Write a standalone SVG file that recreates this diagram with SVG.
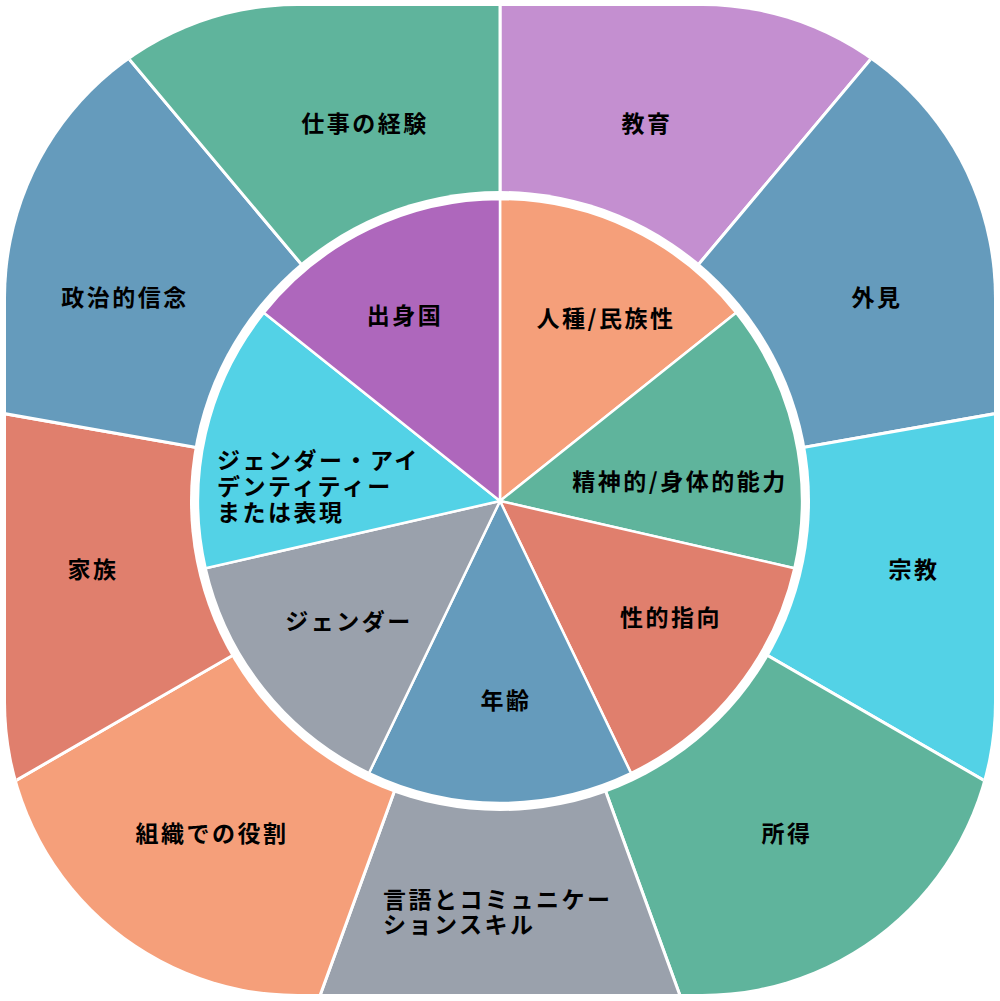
<svg xmlns="http://www.w3.org/2000/svg" width="1000" height="1001" viewBox="0 0 1000 1001">
<style>
.o{stroke:#fff;stroke-width:3}
.i{stroke:#fff;stroke-width:2.5}
text{font-family:"Noto Sans CJK JP","Noto Sans CJK SC",sans-serif;font-weight:bold;font-size:23px;letter-spacing:2.5px;fill:#000}
.m{text-anchor:middle}
.purple{fill:#C48FD0}.blue{fill:#659BBC}.cyan{fill:#53D2E6}.green{fill:#5FB49C}.gray{fill:#9AA1AC}.salmon{fill:#F59F7A}.coral{fill:#E07F6D}.dpurple{fill:#AE67BC}
</style>
<defs>
<clipPath id="rr"><rect x="6" y="6" width="988" height="988" rx="292" ry="292"/></clipPath>
</defs>
<rect width="1000" height="1001" fill="#fff"/>
<g id="outer" clip-path="url(#rr)">
<g id="n-kyoiku"><path class="o purple" d="M500,501 L500,-399 L1078.5,-188.4 Z"/></g>
<g id="n-gaiken"><path class="o blue" d="M500,501 L1078.5,-188.4 L1386.3,344.7 Z"/></g>
<g id="n-shukyo"><path class="o cyan" d="M500,501 L1386.3,344.7 L1279.4,951 Z"/></g>
<g id="n-shotoku"><path class="o green" d="M500,501 L1279.4,951 L807.8,1346.7 Z"/></g>
<g id="n-gengo"><path class="o gray" d="M500,501 L807.8,1346.7 L192.2,1346.7 Z"/></g>
<g id="n-soshiki"><path class="o salmon" d="M500,501 L192.2,1346.7 L-279.4,951 Z"/></g>
<g id="n-kazoku"><path class="o coral" d="M500,501 L-279.4,951 L-386.3,344.7 Z"/></g>
<g id="n-seiji"><path class="o blue" d="M500,501 L-386.3,344.7 L-78.5,-188.4 Z"/></g>
<g id="n-shigoto"><path class="o green" d="M500,501 L-78.5,-188.4 L500,-399 Z"/></g>
</g>
<circle cx="500" cy="501" r="310" fill="#fff"/>
<g id="inner">
<g id="n-jinshu"><path class="i salmon" d="M500,501 L500,199 A302,302 0 0 1 736.11,312.71 Z"/></g>
<g id="n-seishin"><path class="i green" d="M500,501 L736.11,312.71 A302,302 0 0 1 794.43,568.2 Z"/></g>
<g id="n-seiteki"><path class="i coral" d="M500,501 L794.43,568.2 A302,302 0 0 1 631.03,773.09 Z"/></g>
<g id="n-nenrei"><path class="i blue" d="M500,501 L631.03,773.09 A302,302 0 0 1 368.97,773.09 Z"/></g>
<g id="n-gender"><path class="i gray" d="M500,501 L368.97,773.09 A302,302 0 0 1 205.57,568.2 Z"/></g>
<g id="n-genderid"><path class="i cyan" d="M500,501 L205.57,568.2 A302,302 0 0 1 263.89,312.71 Z"/></g>
<g id="n-shusshin"><path class="i dpurple" d="M500,501 L263.89,312.71 A302,302 0 0 1 500,199 Z"/></g>
</g>
<g id="labels">
<text class="m" x="365" y="132">仕事の経験</text>
<text class="m" x="647" y="132">教育</text>
<text class="m" x="125" y="306">政治的信念</text>
<text class="m" x="877" y="306">外見</text>
<text class="m" x="93" y="578">家族</text>
<text class="m" x="914" y="578">宗教</text>
<text class="m" x="212" y="842">組織での役割</text>
<text class="m" x="787" y="842">所得</text>
<text x="383" y="908">言語とコミュニケー<tspan x="383" dy="25">ションスキル</tspan></text>
<text class="m" x="405" y="324">出身国</text>
<text class="m" x="606" y="327">人種/民族性</text>
<text class="m" x="680" y="490">精神的/身体的能力</text>
<text class="m" x="671" y="626">性的指向</text>
<text class="m" x="506" y="709">年齢</text>
<text class="m" x="349" y="630">ジェンダー</text>
<text x="217" y="469">ジェンダー・アイ<tspan x="217" dy="26">デンティティー</tspan><tspan x="217" dy="26">または表現</tspan></text>
</g>
</svg>
